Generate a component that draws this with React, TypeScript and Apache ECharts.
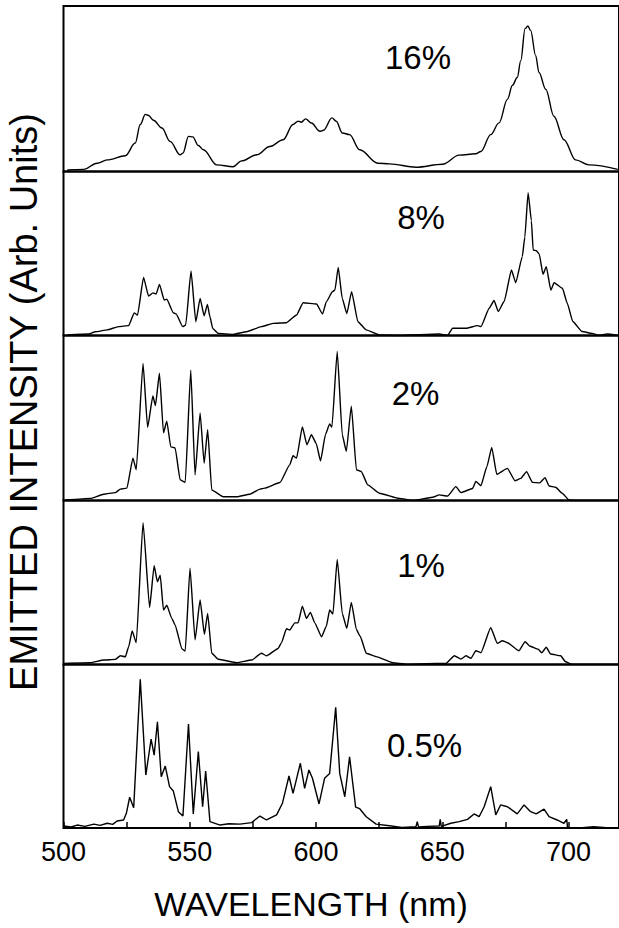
import React, { useEffect, useRef } from "react";
import * as echarts from "echarts";

// ---- data (wavelength in nm, intensity in arbitrary units, 0-100 per panel) ----
const PANEL_LABELS = ["16%", "8%", "2%", "1%", "0.5%"];
const X_MIN = 500;
const X_MAX = 720;
const X_TICK_STEP = 25;
const X_LABEL_STEP = 50;

const WL_16 = [501.5, 508.0, 513.3, 517.3, 524.5, 528.4, 530.4, 532.4, 533.7, 535.6, 539.0, 542.2, 546.2, 547.3, 549.5, 551.2, 553.4, 555.4, 560.7, 567.2, 570.5, 576.5, 581.7, 587.0, 590.9, 592.9, 594.2, 595.9, 598.2, 601.5, 603.0, 606.3, 608.0, 610.4, 613.3, 617.3, 624.5, 629.1, 639.6, 650.1, 656.7, 663.3, 665.3, 669.2, 672.5, 675.8, 677.8, 679.7, 681.1, 682.8, 683.9, 685.0, 687.0, 688.3, 691.0, 694.2, 698.2, 702.8, 708.1, 719.5];
const INT_16 = [0.9, 1.3, 5.0, 7.0, 9.5, 17.2, 28.4, 34.5, 33.8, 31.0, 26.3, 18.2, 10.1, 11.1, 21.2, 20.9, 15.7, 13.1, 4.0, 2.9, 6.4, 10.1, 15.1, 19.2, 28.4, 30.4, 29.8, 31.8, 29.3, 24.3, 24.9, 32.4, 30.4, 23.3, 22.3, 13.1, 5.0, 4.6, 2.6, 4.4, 9.9, 10.7, 12.1, 22.3, 29.4, 43.6, 52.1, 56.8, 67.0, 86.3, 87.9, 85.3, 70.0, 59.9, 49.7, 33.4, 19.2, 7.0, 4.0, 1.3];

const WL_8 = [501.5, 510.0, 512.6, 517.3, 521.8, 525.8, 528.0, 529.3, 531.7, 533.7, 535.4, 536.7, 538.0, 539.9, 540.9, 543.5, 544.6, 547.2, 548.4, 550.5, 552.4, 554.1, 555.7, 557.0, 558.0, 559.1, 561.3, 567.2, 572.5, 578.4, 583.0, 588.3, 592.3, 594.9, 600.2, 602.6, 604.1, 606.5, 607.5, 608.8, 610.4, 612.2, 614.1, 616.6, 619.9, 625.1, 633.0, 648.8, 652.1, 654.1, 659.4, 664.0, 665.3, 668.6, 670.5, 672.2, 674.5, 677.4, 679.1, 681.7, 682.7, 684.0, 685.3, 686.0, 687.3, 688.4, 689.9, 691.2, 693.0, 694.3, 697.6, 699.5, 701.7, 705.4, 709.4, 712.0, 715.3, 719.5];
const INT_8 = [0.3, 0.9, 2.3, 3.4, 5.4, 6.0, 13.8, 12.4, 35.4, 24.0, 26.0, 25.3, 31.2, 21.6, 22.1, 13.9, 13.1, 5.4, 6.4, 39.3, 8.4, 22.6, 12.0, 19.0, 11.4, 4.3, 1.3, 0.7, 2.3, 5.4, 7.4, 7.8, 12.5, 20.0, 19.2, 13.1, 20.6, 26.7, 27.7, 41.5, 22.6, 13.4, 26.7, 8.4, 3.4, 0.3, 0.0, 0.9, 0.0, 4.4, 4.4, 6.0, 5.4, 16.6, 21.3, 14.6, 20.7, 39.9, 32.2, 48.1, 59.9, 87.1, 70.0, 52.1, 51.7, 49.7, 37.3, 42.0, 27.7, 32.2, 28.8, 19.7, 8.5, 2.4, 1.3, 0.0, 0.9, 0.0];

const WL_2 = [500.8, 510.7, 515.9, 520.5, 522.5, 525.1, 527.5, 528.8, 531.5, 533.3, 535.4, 536.4, 538.0, 539.6, 540.9, 542.5, 544.2, 546.2, 548.2, 550.4, 552.1, 554.1, 555.7, 557.1, 558.7, 563.3, 568.6, 573.8, 577.8, 579.7, 585.7, 589.6, 590.9, 592.3, 594.6, 596.4, 598.2, 600.1, 601.8, 603.8, 605.4, 606.3, 608.4, 610.4, 612.0, 614.0, 616.0, 617.9, 620.5, 625.1, 633.0, 638.3, 646.2, 648.8, 652.1, 655.4, 657.4, 662.0, 663.3, 665.3, 667.7, 669.6, 671.6, 675.8, 678.8, 681.1, 683.4, 685.7, 688.6, 690.7, 692.3, 694.9, 697.5, 700.2, 702.8, 719.5];
const INT_2 = [0.3, 1.3, 3.8, 4.8, 6.9, 7.5, 25.7, 18.6, 83.0, 44.4, 63.3, 57.6, 77.1, 41.0, 48.1, 32.5, 31.9, 12.5, 10.9, 78.9, 15.5, 53.1, 22.6, 42.9, 6.4, 2.3, 2.3, 3.8, 6.9, 7.5, 10.9, 21.6, 27.1, 25.7, 44.6, 33.8, 39.9, 34.5, 24.0, 40.3, 46.4, 44.4, 90.4, 39.9, 29.8, 57.2, 18.6, 17.6, 9.5, 4.4, 1.3, 0.0, 2.0, 3.4, 2.7, 8.4, 4.8, 7.3, 11.6, 8.9, 20.6, 32.2, 15.9, 19.5, 12.0, 13.4, 17.5, 11.0, 10.7, 13.8, 8.8, 8.0, 4.4, 0.3, 0.0, 0.0];

const WL_1 = [500.1, 510.7, 515.9, 520.5, 522.5, 524.5, 525.8, 527.2, 528.8, 531.5, 534.1, 535.9, 537.2, 538.3, 539.6, 540.9, 542.9, 544.2, 546.9, 548.2, 550.1, 552.1, 554.1, 555.8, 557.1, 558.7, 561.3, 568.6, 574.5, 578.4, 580.4, 585.0, 586.3, 588.3, 589.6, 591.6, 592.9, 594.6, 596.2, 597.8, 599.5, 602.2, 604.1, 605.4, 606.7, 608.4, 610.4, 612.2, 614.0, 616.0, 617.5, 619.9, 623.8, 630.4, 635.7, 647.5, 651.5, 654.8, 657.4, 659.4, 661.4, 663.3, 665.3, 669.2, 671.8, 673.8, 675.8, 680.4, 682.8, 684.6, 688.0, 689.4, 691.2, 692.9, 696.9, 698.8, 701.4, 719.5];
const INT_1 = [0.7, 1.1, 2.7, 3.1, 5.3, 4.7, 10.8, 20.4, 13.3, 86.4, 34.8, 60.2, 50.4, 54.5, 33.2, 36.1, 28.1, 24.1, 9.5, 8.2, 58.7, 15.0, 39.3, 18.4, 31.2, 6.9, 3.2, 1.1, 2.7, 6.9, 5.3, 9.8, 13.2, 21.8, 21.0, 25.4, 25.4, 35.6, 28.1, 31.8, 25.4, 16.9, 23.4, 33.2, 30.8, 64.1, 31.2, 22.0, 37.9, 21.3, 17.2, 6.9, 4.8, 1.1, 0.1, 0.7, 0.7, 5.3, 3.3, 5.3, 3.8, 8.4, 7.2, 22.4, 12.9, 14.5, 13.3, 8.4, 13.9, 11.3, 9.3, 7.2, 10.5, 6.4, 5.3, 1.7, 0.0, 0.0];

const WL_05 = [500.1, 503.0, 505.4, 508.5, 512.0, 514.5, 517.3, 519.5, 521.2, 523.8, 524.9, 526.2, 527.8, 530.4, 532.6, 534.7, 535.9, 537.2, 538.7, 540.3, 542.0, 543.5, 545.5, 547.3, 549.5, 551.4, 553.4, 555.1, 556.3, 558.0, 562.0, 565.5, 569.9, 574.5, 577.8, 580.4, 584.4, 586.7, 589.3, 590.9, 593.8, 595.5, 597.2, 598.6, 601.2, 603.4, 605.4, 607.8, 609.4, 611.4, 613.3, 615.7, 617.3, 619.9, 623.8, 629.1, 634.0, 639.6, 640.1, 640.6, 644.0, 648.8, 649.2, 649.6, 653.4, 656.7, 660.0, 662.6, 664.6, 666.6, 669.2, 671.2, 673.1, 675.8, 679.7, 682.4, 685.0, 687.2, 690.3, 692.3, 695.5, 698.2, 699.3, 699.6, 700.2, 705.4, 710.0, 715.0, 719.5];
const INT_05 = [1.2, 0.6, 1.8, 1.0, 2.4, 1.6, 2.9, 2.2, 4.3, 4.9, 9.0, 18.8, 12.4, 90.9, 32.4, 54.4, 44.6, 65.0, 31.4, 37.9, 25.3, 22.6, 10.0, 7.3, 63.6, 8.6, 46.7, 13.0, 34.9, 3.9, 1.8, 2.6, 2.4, 3.3, 7.3, 4.9, 8.0, 15.1, 31.8, 21.2, 39.6, 24.3, 35.5, 30.4, 14.7, 30.4, 33.4, 73.8, 33.4, 19.1, 43.5, 12.8, 11.8, 6.9, 2.4, 1.4, 0.4, 0.8, 3.9, 0.6, 1.0, 1.2, 5.3, 1.0, 2.9, 3.9, 5.3, 8.6, 6.9, 13.0, 25.3, 8.0, 14.1, 13.0, 8.6, 14.1, 10.0, 8.6, 11.6, 6.9, 4.9, 2.9, 5.3, 0.4, 0.0, 0.2, 0.8, 0.2, 0.2];

const SERIES_WL = [WL_16, WL_8, WL_2, WL_1, WL_05];
const SERIES_INT = [INT_16, INT_8, INT_2, INT_1, INT_05];

// ---- layout ----
const FONT = "'Liberation Sans', Arial, Helvetica, sans-serif";
const PLOT_LEFT = 63.5;
const PLOT_WIDTH = 557.5;
const PANEL_EDGES = [6, 171.5, 335.5, 500.5, 664.5, 828];
const SMOOTHING = [0.35, 0.15, 0.15, 0.15, 0];
const LABEL_POS = [
  [418, 57.5],
  [421, 217.5],
  [415.5, 393],
  [421, 565.5],
  [424.5, 745.5],
];

export default function App() {
  const ref = useRef<HTMLDivElement>(null);

  useEffect(() => {
    if (!ref.current) return;
    const chart = echarts.init(ref.current, null, { renderer: "svg" });
    const n = PANEL_LABELS.length;
    const grids = [];
    const xAxes = [];
    const yAxes = [];
    const series = [];
    for (let i = 0; i < n; i++) {
      const top = PANEL_EDGES[i];
      const height = PANEL_EDGES[i + 1] - PANEL_EDGES[i];
      grids.push({
        left: PLOT_LEFT,
        top,
        width: PLOT_WIDTH,
        height,
        show: true,
        borderColor: "#000",
        borderWidth: 2,
        backgroundColor: "transparent",
        containLabel: false,
      });
      const isBottom = i === n - 1;
      xAxes.push({
        type: "value",
        gridIndex: i,
        min: X_MIN,
        max: X_MAX,
        interval: X_TICK_STEP,
        axisLine: { show: false },
        splitLine: { show: false },
        axisTick: {
          show: isBottom,
          inside: true,
          length: 6,
          lineStyle: { color: "#000", width: 1.5 },
        },
        axisLabel: {
          show: isBottom,
          color: "#000",
          fontSize: 27,
          fontFamily: FONT,
          margin: 10,
          showMaxLabel: false,
          formatter: (v: number) => (v % X_LABEL_STEP === 0 ? String(v) : ""),
        },
      });
      yAxes.push({
        type: "value",
        gridIndex: i,
        min: 0,
        max: 100,
        show: false,
        splitLine: { show: false },
      });
      const wl = SERIES_WL[i];
      const iv = SERIES_INT[i];
      series.push({
        type: "line",
        name: PANEL_LABELS[i],
        xAxisIndex: i,
        yAxisIndex: i,
        data: wl.map((w, k) => [w, iv[k]]),
        showSymbol: false,
        symbol: "none",
        smooth: SMOOTHING[i] > 0 ? SMOOTHING[i] : false,
        smoothMonotone: "x",
        clip: true,
        lineStyle: { color: "#000", width: 1.4 },
        silent: true,
      });
    }

    const graphics: any[] = PANEL_LABELS.map((t, i) => ({
      type: "text",
      x: LABEL_POS[i][0],
      y: LABEL_POS[i][1],
      z: 10,
      style: {
        text: t,
        fontSize: 33,
        fontFamily: FONT,
        fill: "#000",
        align: "center",
        verticalAlign: "middle",
      },
    }));
    graphics.push({
      type: "text",
      x: 24,
      y: 402,
      rotation: Math.PI / 2,
      z: 10,
      style: {
        text: "EMITTED INTENSITY (Arb. Units)",
        fontSize: 38,
        fontFamily: FONT,
        fill: "#000",
        align: "center",
        verticalAlign: "middle",
      },
    });
    graphics.push({
      type: "text",
      x: 311,
      y: 904,
      z: 10,
      style: {
        text: "WAVELENGTH (nm)",
        fontSize: 34,
        fontFamily: FONT,
        fill: "#000",
        align: "center",
        verticalAlign: "middle",
      },
    });

    chart.setOption({
      animation: false,
      backgroundColor: "#fff",
      grid: grids,
      xAxis: xAxes,
      yAxis: yAxes,
      series,
      graphic: graphics,
    });
    return () => chart.dispose();
  }, []);

  return (
    <div
      style={{
        position: "fixed",
        left: 0,
        top: 0,
        width: 619,
        height: 928,
        overflow: "hidden",
        background: "#fff",
      }}
    >
      <div ref={ref} style={{ width: 619, height: 928 }} />
    </div>
  );
}
